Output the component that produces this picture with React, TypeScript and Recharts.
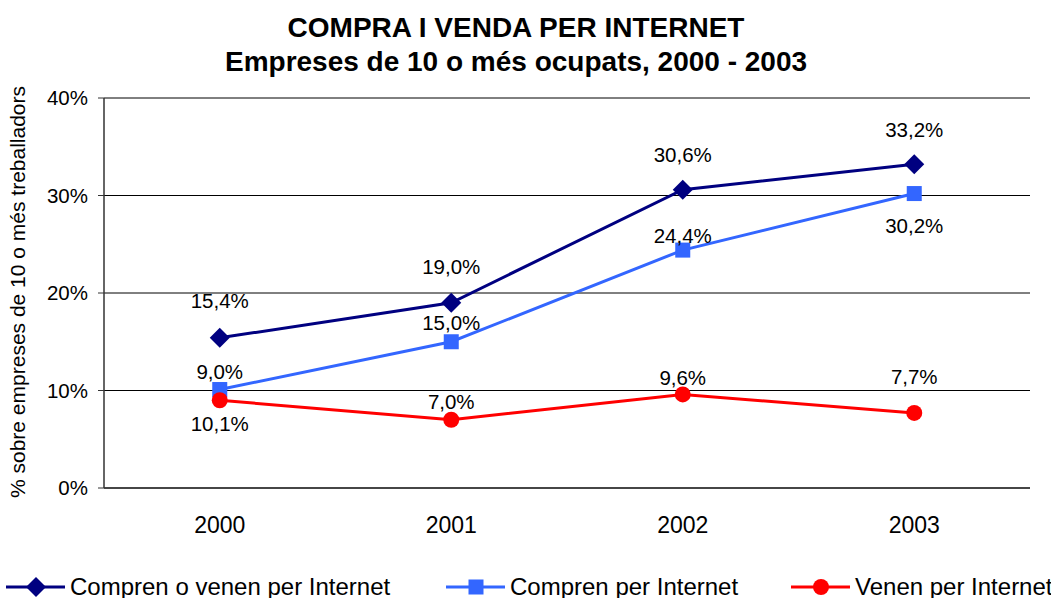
import React from 'react';
import { LineChart, Line, XAxis, YAxis, CartesianGrid, LabelList } from 'recharts';

const years = ['2000', '2001', '2002', '2003'];
const comprenOVenen = [15.4, 19.0, 30.6, 33.2];
const compren = [10.1, 15.0, 24.4, 30.2];
const venen = [9.0, 7.0, 9.6, 7.7];
const yTicks = [0, 10, 20, 30, 40];
const seriesNames = ['Compren o venen per Internet', 'Compren per Internet', 'Venen per Internet'];
const titleLines = ['COMPRA I VENDA PER INTERNET', 'Empreses de 10 o més ocupats, 2000 - 2003'];
const yAxisTitle = '% sobre empreses de 10 o més treballadors';

const data = years.map((y, i) => ({ year: y, a: comprenOVenen[i], b: compren[i], c: venen[i] }));

const FONT = '"Liberation Sans", Arial, Helvetica, sans-serif';
const colors = { a: '#000080', b: '#3366FF', c: '#FF0000' };
// label vertical offsets (style only)
const labelDy = { a: [-37, -36, -35, -35], b: [34, -19, -14, 32], c: [-29, -18, -17, -36] };

const fmt = (v: number) => v.toFixed(1).replace('.', ',') + '%';

const Marker = ({ kind, cx, cy, color }: any) => {
  if (kind === 'diamond') {
    const r = 10;
    return <polygon points={`${cx},${cy - r} ${cx + r},${cy} ${cx},${cy + r} ${cx - r},${cy}`} fill={color} />;
  }
  if (kind === 'square') {
    const s = 7.5;
    return <rect x={cx - s} y={cy - s} width={2 * s} height={2 * s} fill={color} />;
  }
  return <circle cx={cx} cy={cy} r={8} fill={color} />;
};

const makeDot = (kind: string, color: string) => (p: any) => (
  <Marker key={`${kind}-${p.index}`} kind={kind} cx={p.cx} cy={p.cy} color={color} />
);

const makeLabel = (key: 'a' | 'b' | 'c') => (p: any) => {
  const { x, y, index, value } = p;
  if (x == null || y == null) return null;
  return (
    <text key={`${key}-l-${index}`} x={x} y={y + labelDy[key][index]} dy="0.36em" textAnchor="middle"
      fontSize={20.5} fill="#000" fontFamily={FONT}>
      {fmt(Number(value))}
    </text>
  );
};

const legendItems = [
  { name: seriesNames[0], color: colors.a, kind: 'diamond', x: 6 },
  { name: seriesNames[1], color: colors.b, kind: 'square', x: 446 },
  { name: seriesNames[2], color: colors.c, kind: 'circle', x: 791 },
];

export default function App() {
  return (
    <div style={{ position: 'absolute', left: 0, top: 0, width: 1051, height: 598, background: '#fff', overflow: 'hidden', fontFamily: FONT }}>
      <LineChart width={1051} height={598} data={data} margin={{ top: 98, right: 21, bottom: 0, left: 0 }}
        style={{ fontFamily: FONT }}>
        <CartesianGrid vertical={false} stroke="#000" strokeWidth={1} />
        <XAxis dataKey="year" scale="band" height={110} tickSize={0} tickMargin={29} axisLine={{ stroke: '#333', strokeWidth: 1.5 }}
          tickLine={false} tick={{ fontSize: 23, fill: '#000', fontFamily: FONT }} />
        <XAxis xAxisId="top" orientation="top" dataKey="year" scale="band" height={0} tick={false} tickLine={false}
          axisLine={{ stroke: '#888', strokeWidth: 1.5 }} />
        <YAxis width={104} domain={[0, 40]} ticks={yTicks} tickFormatter={(v: number) => `${v}%`}
          tickSize={6} tickMargin={10} axisLine={{ stroke: '#333', strokeWidth: 1.5 }} tickLine={{ stroke: '#333' }}
          tick={{ fontSize: 20.5, fill: '#000', fontFamily: FONT }} />
        <YAxis yAxisId="right" orientation="right" width={0} tick={false} tickLine={false}
          axisLine={{ stroke: '#888', strokeWidth: 2 }} />
        <Line dataKey="a" stroke={colors.a} strokeWidth={3} isAnimationActive={false} dot={makeDot('diamond', colors.a)}>
          <LabelList dataKey="a" content={makeLabel('a')} />
        </Line>
        <Line dataKey="b" stroke={colors.b} strokeWidth={3} isAnimationActive={false} dot={makeDot('square', colors.b)}>
          <LabelList dataKey="b" content={makeLabel('b')} />
        </Line>
        <Line dataKey="c" stroke={colors.c} strokeWidth={3} isAnimationActive={false} dot={makeDot('circle', colors.c)}>
          <LabelList dataKey="c" content={makeLabel('c')} />
        </Line>
      </LineChart>
      <svg width={1051} height={598} style={{ position: 'absolute', left: 0, top: 0, pointerEvents: 'none' }}>
        <text x={516} y={37} textAnchor="middle" fontSize={28} fontWeight="bold" fontFamily={FONT} fill="#000">{titleLines[0]}</text>
        <text x={516} y={71} textAnchor="middle" fontSize={28} fontWeight="bold" fontFamily={FONT} fill="#000">{titleLines[1]}</text>
        <text transform="translate(25,292) rotate(-90)" textAnchor="middle" fontSize={21} fontFamily={FONT} fill="#000">{yAxisTitle}</text>
        {legendItems.map((it) => (
          <g key={it.name}>
            <line x1={it.x} x2={it.x + 59} y1={587} y2={587} stroke={it.color} strokeWidth={3} />
            <Marker kind={it.kind} cx={it.x + 30} cy={587} color={it.color} />
            <text x={it.x + 64} y={595} fontSize={24} fontFamily={FONT} fill="#000">{it.name}</text>
          </g>
        ))}
      </svg>
    </div>
  );
}
